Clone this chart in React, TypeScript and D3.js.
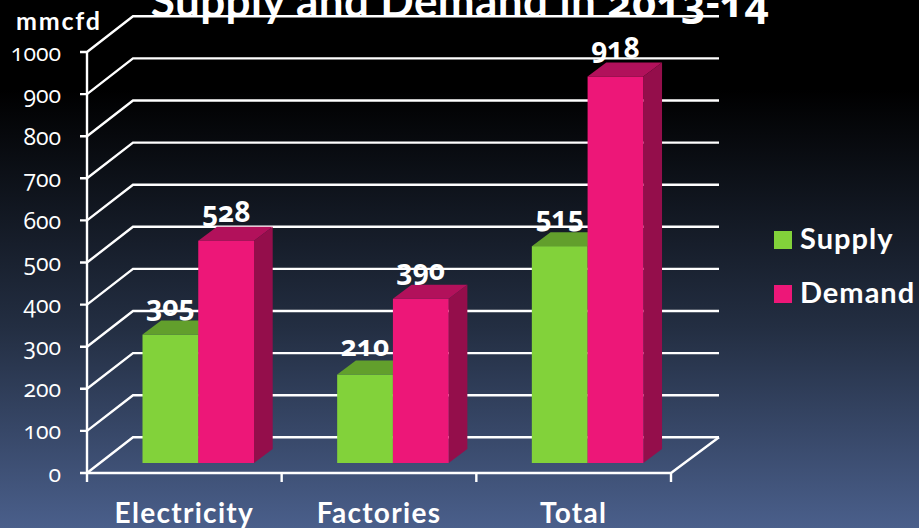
import React from "react";
import * as d3 from "d3";

const categories = ["Electricity", "Factories", "Total"];
const seriesNames = ["Supply", "Demand"];
const supply = [305, 210, 515];
const demand = [528, 390, 918];
const ticks = [0, 100, 200, 300, 400, 500, 600, 700, 800, 900, 1000];

const WIDTH = 919;
const HEIGHT = 528;
const FONT = "Lato, 'Open Sans', sans-serif";
const DIGITS = "'Open Sans', sans-serif";
const NUMS = { fontFeatureSettings: "'onum'", fontVariantNumeric: "oldstyle-nums" };

const faces = {
  Supply: { front: "#82d23a", top: "#629f2c", side: "#5a9428" },
  Demand: { front: "#ed1778", top: "#b2115b", side: "#940e4b" },
};

// front plane of the 3d box, the back wall is offset by wallDx / wallDy
const wallDx = 46;
const wallDy = -35.7;
const barDx = 18.7;
const barDy = -14;
const barShiftY = -10;

const x = d3.scaleBand().domain(categories).range([87, 671]);
const y = d3.scaleLinear().domain([0, 1000]).range([473, 52]);
const inner = d3.scaleBand().domain(seriesNames).range([55.5, 167]);

const poly = (pts: number[][]) => d3.line()(pts as [number, number][]) + "Z";

export default function App() {
  const values: Record<string, number[]> = { Supply: supply, Demand: demand };
  const y0 = y(0);
  const x0 = 87;
  const x1 = 671;
  return (
    <svg
      width={WIDTH}
      height={HEIGHT}
      style={{ position: "absolute", left: 0, top: 0, display: "block" }}
      fontFamily={FONT}
    >
      <defs>
        <linearGradient id="bg" x1="0" y1="0" x2="0" y2="1">
          <stop offset="0" stopColor="#000000" />
          <stop offset="0.17" stopColor="#000000" />
          <stop offset="0.62" stopColor="#232e42" />
          <stop offset="1" stopColor="#4a5f8b" />
        </linearGradient>
      </defs>
      <rect width={WIDTH} height={HEIGHT} fill="url(#bg)" />

      <g stroke="#fff" strokeWidth={2.4} fill="none">
        {ticks.map((t) => (
          <path
            key={t}
            d={d3.line()([[x0 - 7, y(t)], [x0, y(t)], [x0 + wallDx, y(t) + wallDy], [719, y(t) + wallDy]])!}
          />
        ))}
        <path d={d3.line()([[x0, y(1000)], [x0, y0 + 9]])!} />
        <path d={d3.line()([[x0, y0], [x1, y0], [719, y0 + wallDy]])!} />
        {categories.map((c) => (
          <path key={c} d={d3.line()([[x(c)! + x.bandwidth(), y0], [x(c)! + x.bandwidth(), y0 + 9]])!} />
        ))}
      </g>

      {ticks.map((t) => (
        <text key={t} x={61} y={y(t) + 8.5} textAnchor="end" fill="#fff" fontSize={23} fontFamily={DIGITS} style={NUMS}>
          {t}
        </text>
      ))}

      {categories.map((c, i) =>
        seriesNames.map((s) => {
          const v = values[s][i];
          const col = faces[s as keyof typeof faces];
          const l = x(c)! + inner(s)!;
          const r = l + inner.bandwidth();
          const b = y0 + barShiftY;
          const t = y(v) + barShiftY;
          return (
            <g key={c + s}>
              <path d={poly([[r, b], [r + barDx, b + barDy], [r + barDx, t + barDy], [r, t]])} fill={col.side} />
              <path d={poly([[l, t], [l + barDx, t + barDy], [r + barDx, t + barDy], [r, t]])} fill={col.top} />
              <rect x={l} y={t} width={r - l} height={b - t} fill={col.front} />
            </g>
          );
        })
      )}

      {categories.map((c, i) =>
        seriesNames.map((s) => {
          const v = values[s][i];
          return (
            <text
              key={c + s}
              x={x(c)! + inner(s)! + inner.bandwidth() / 2}
              y={y(v) + barShiftY - 19}
              textAnchor="middle"
              fill="#fff"
              fontSize={28}
              fontWeight={700}
              fontFamily={DIGITS}
              style={NUMS}
            >
              {v}
            </text>
          );
        })
      )}

      {categories.map((c) => (
        <text
          key={c}
          x={x(c)! + x.bandwidth() / 2}
          y={523}
          textAnchor="middle"
          fill="#fff"
          fontSize={28}
          fontWeight={700}
          letterSpacing={1.3}
        >
          {c}
        </text>
      ))}

      {seriesNames.map((s, i) => (
        <g key={s}>
          <rect x={774} y={231 + i * 54} width={18} height={18} fill={faces[s as keyof typeof faces].front} />
          <text x={800} y={249 + i * 54} fill="#fff" fontSize={29} fontWeight={700} letterSpacing={1}>
            {s}
          </text>
        </g>
      ))}

      <text x={16} y={30} fill="#fff" fontSize={25} fontWeight={700} letterSpacing={1.8}>
        mmcfd
      </text>
      <text x={460} y={17} textAnchor="middle" fill="#fff" fontSize={44} fontWeight={700} letterSpacing={0.4}>
        Supply and Demand in <tspan fontFamily={DIGITS} fontSize={42} style={NUMS}>2013-14</tspan>
      </text>
    </svg>
  );
}
